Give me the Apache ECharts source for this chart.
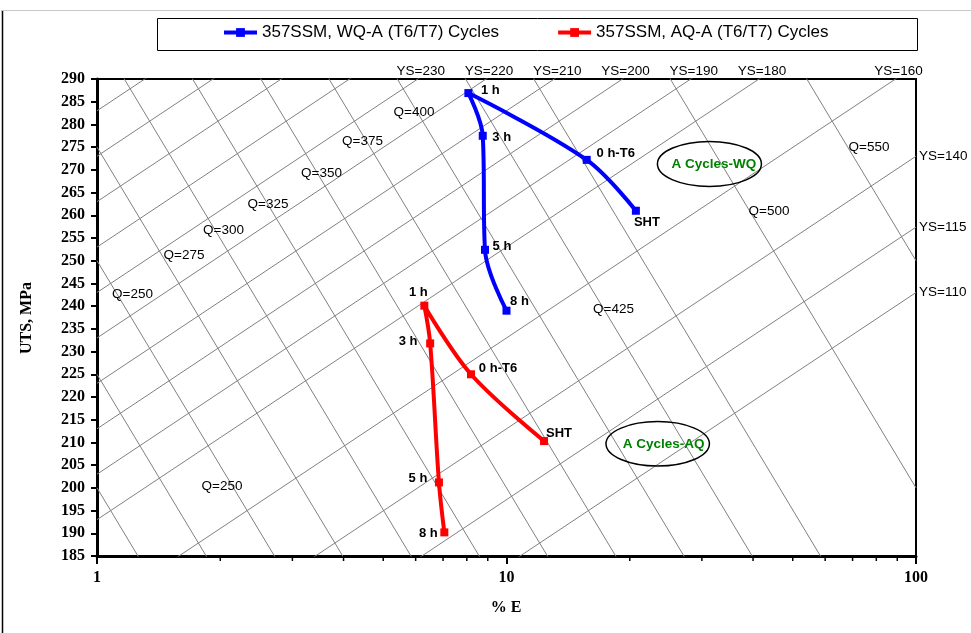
<!DOCTYPE html>
<html>
<head>
<meta charset="utf-8">
<script src="https://cdn.jsdelivr.net/npm/echarts@6/dist/echarts.min.js"></script>
<style>
  html, body { margin: 0; padding: 0; background: #fff; }
  #chart { width: 971px; height: 633px; }
</style>
</head>
<body>
<div id="chart"></div>
<script>
// Heat-treatment paths of 357 alloy plotted in the quality chart (log %E vs UTS)
const stepNames = ['SHT', '0 h-T6', '1 h', '3 h', '5 h', '8 h'];
const wqElong = [20.7, 15.7, 8.07, 8.75, 8.86, 10.0];
const wqUts   = [261.0, 272.2, 286.9, 277.5, 252.4, 239.0];
const aqElong = [12.35, 8.19, 6.30, 6.51, 6.84, 7.05];
const aqUts   = [210.3, 225.0, 240.1, 231.8, 201.2, 190.2];

const seriesNames = ['357SSM, WQ-A (T6/T7) Cycles', '357SSM, AQ-A (T6/T7) Cycles'];

// axis ranges
const xMin = 1, xMax = 100;
const yMin = 185, yMax = 290, yStep = 5;
const xMinorTicks = [2, 3, 4, 5, 6, 7, 8, 9, 20, 30, 40, 50, 60, 70, 80, 90];

// iso-quality lines: Q = UTS + 150 log10(E)
const qCoef = 150;
const qLevels = [200, 225, 250, 275, 300, 325, 350, 375, 400, 425, 450, 500, 550];
// iso-yield lines: UTS = base + 60 log10(E), base = UTS at E = 1 %
const ysCoef = 60;
const ysBases = [283, 273, 263, 253, 243, 233, 223, 213, 203, 193, 173, 153, 137.4, 123];

// yield labels: text and the line base they mark
const ysTopLabels = [['YS=230', 243], ['YS=220', 233], ['YS=210', 223], ['YS=200', 213],
                     ['YS=190', 203], ['YS=180', 193], ['YS=160', 173]];
const ysRightLabels = [['YS=140', 153], ['YS=115', 137.4], ['YS=110', 123]];

// quality labels: text, elongation, UTS of the label centre
const qLabels = [['Q=250', 1.221, 242.7], ['Q=275', 1.631, 251.2], ['Q=300', 2.037, 256.6],
                 ['Q=325', 2.616, 262.5], ['Q=350', 3.534, 269.2], ['Q=375', 4.451, 276.2],
                 ['Q=400', 5.944, 282.6], ['Q=425', 18.25, 239.3], ['Q=500', 43.75, 260.8],
                 ['Q=550', 76.8, 275.0], ['Q=250', 2.02, 200.3]];

// point label offsets (px from the marker centre)
const wqLabelOffsets = [[11, 12], [29, -6], [22, -3], [19, 2], [17, -3], [13, -9]];
const aqLabelOffsets = [[15, -8], [27, -6], [-6, -13], [-22, -2], [-21, -4], [-16, 1]];

const sansFont = '"Liberation Sans", Arial, sans-serif';
const serifFont = '"Liberation Serif", "Times New Roman", serif';

const chart = echarts.init(document.getElementById('chart'), null, { renderer: 'canvas' });

function guideSeries(points) {
  return {
    type: 'line',
    data: points,
    showSymbol: false,
    symbol: 'none',
    silent: true,
    clip: true,
    z: 1,
    animation: false,
    lineStyle: { color: '#808080', width: 1 }
  };
}

const guides = [];
qLevels.forEach(q => guides.push(guideSeries([[xMin, q], [xMax, q - qCoef * 2]])));
ysBases.forEach(b => guides.push(guideSeries([[xMin, b], [xMax, b + ysCoef * 2]])));

function pathSeries(name, color, elong, uts, offsets) {
  return {
    name: name,
    type: 'line',
    smooth: 0.35,
    symbol: 'rect',
    symbolSize: 8,
    z: 5,
    animation: false,
    lineStyle: { color: color, width: 4 },
    itemStyle: { color: color },
    data: elong.map((e, i) => ({
      value: [e, uts[i]],
      name: stepNames[i],
      label: { offset: offsets[i] }
    })),
    label: {
      show: true,
      position: 'inside',
      formatter: p => p.name,
      color: '#000',
      fontFamily: sansFont,
      fontWeight: 'bold',
      fontSize: 13
    }
  };
}

const option = {
  backgroundColor: '#fff',
  animation: false,
  grid: {
    left: 97, right: 55, top: 79, bottom: 77,
    show: true, borderColor: '#000', borderWidth: 2,
    containLabel: false, outerBoundsMode: 'none'
  },
  legend: {
    data: seriesNames,
    left: 222, top: 24,
    padding: 0,
    itemWidth: 33, itemHeight: 11, itemGap: 57,
    lineStyle: { width: 4 },
    textStyle: { fontFamily: sansFont, fontSize: 17, color: '#000' }
  },
  xAxis: {
    type: 'log', logBase: 10, min: xMin, max: xMax,
    axisLine: { show: true, lineStyle: { color: '#000', width: 3 } },
    axisTick: { show: true, length: 8, lineStyle: { color: '#000', width: 2 } },
    minorTick: { show: false },
    splitLine: { show: false },
    axisLabel: {
      margin: 14, color: '#000', fontFamily: serifFont, fontWeight: 'bold', fontSize: 16,
      formatter: v => String(Math.round(v))
    }
  },
  yAxis: {
    type: 'value', min: yMin, max: yMax, interval: yStep,
    axisLine: { show: true, lineStyle: { color: '#000', width: 3 } },
    axisTick: { show: true, length: 6, lineStyle: { color: '#000', width: 2 } },
    splitLine: { show: false },
    axisLabel: { margin: 12, color: '#000', fontFamily: serifFont, fontWeight: 'bold', fontSize: 16 }
  },
  series: guides.concat([
    pathSeries(seriesNames[0], '#0000ff', wqElong, wqUts, wqLabelOffsets),
    pathSeries(seriesNames[1], '#ff0000', aqElong, aqUts, aqLabelOffsets)
  ])
};

chart.setOption(option);

// annotations placed through the axes
const px = (e, u) => chart.convertToPixel({ gridIndex: 0 }, [e, u]);
const gfx = [];

function text(str, x, y, opts) {
  const o = opts || {};
  gfx.push({
    type: 'text', silent: true, z: o.z || 20,
    rotation: o.rotation || 0,
    x: x, y: y,
    style: {
      text: str, x: 0, y: 0,
      fill: o.color || '#000',
      font: o.font || ('13.5px ' + sansFont),
      align: o.align || 'center', textAlign: o.align || 'center',
      verticalAlign: 'middle', textVerticalAlign: 'middle'
    }
  });
}

// minor ticks of the log axis
xMinorTicks.forEach(v => {
  const p = px(v, yMin);
  gfx.push({ type: 'line', silent: true, z: 20,
    shape: { x1: p[0], y1: p[1], x2: p[0], y2: p[1] + 5 },
    style: { stroke: '#000', lineWidth: 1.5 } });
});

// yield-strength labels along the top and the right border
ysTopLabels.forEach(([t, b]) => {
  const e = Math.pow(10, (yMax - b) / ysCoef);
  const p = px(e, yMax);
  text(t, p[0] + 3, p[1] - 8);
});
ysRightLabels.forEach(([t, b]) => {
  const p = px(xMax, b + ysCoef * 2);
  text(t, p[0] + 3, p[1], { align: 'left' });
});

// quality labels
qLabels.forEach(([t, e, u]) => {
  const p = px(e, u);
  text(t, p[0], p[1]);
});

// cycle group tags
[['A Cycles-WQ', 31.3, 271.3, 52, 22.5, 4.5], ['A Cycles-AQ', 23.4, 209.7, 51.7, 22.2, 6]]
  .forEach(([t, e, u, rx, ry, dx]) => {
    const p = px(e, u);
    gfx.push({ type: 'ellipse', silent: true, z: 20,
      shape: { cx: p[0], cy: p[1], rx: rx, ry: ry },
      style: { fill: 'none', stroke: '#000', lineWidth: 1.5 } });
    text(t, p[0] + dx, p[1], { color: '#008000', font: 'bold 13.5px ' + sansFont });
  });

// axis titles
text('UTS, MPa', 27, 318, { rotation: Math.PI / 2, font: 'bold 16px ' + serifFont });
text('% E', 506, 608, { font: 'bold 16px ' + serifFont });

// legend frame
gfx.push({ type: 'rect', silent: true, z: 0,
  shape: { x: 157.5, y: 18.5, width: 760, height: 32 },
  style: { fill: '#fff', stroke: '#000', lineWidth: 1 } });

// figure frame: dark left edge, light top edge
gfx.push({ type: 'line', silent: true, z: 0,
  shape: { x1: 2.5, y1: 10, x2: 2.5, y2: 633 },
  style: { stroke: '#000', lineWidth: 1.5 } });
gfx.push({ type: 'line', silent: true, z: 0,
  shape: { x1: 2, y1: 10.5, x2: 971, y2: 10.5 },
  style: { stroke: '#c8c8c8', lineWidth: 1 } });

chart.setOption({ graphic: { elements: gfx } });
</script>
</body>
</html>
